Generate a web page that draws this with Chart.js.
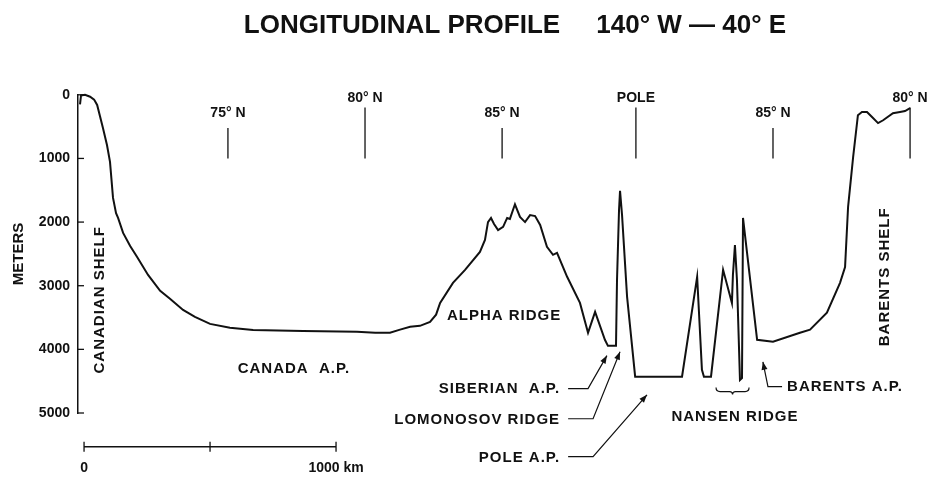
<!DOCTYPE html>
<html>
<head>
<meta charset="utf-8">
<script src="https://cdn.jsdelivr.net/npm/chart.js@4/dist/chart.umd.min.js"></script>
<style>
  body { margin: 0; background: #fff; }
  canvas { display: block; }
</style>
</head>
<body>
<canvas id="profileChart" width="927" height="479"></canvas>
<script>
// PROFILE DATA (distance along section in km, depth in m)
const distanceKm = [-16, -12, 4, 24, 40, 52, 75, 91, 103, 115, 127, 135, 155, 183, 210, 254, 302, 341, 393, 440,
  500, 579, 671, 869, 1083, 1155, 1214, 1254, 1294, 1333, 1373, 1397, 1413, 1464, 1512, 1571, 1591, 1603, 1615, 1627,
  1643, 1663, 1679, 1690, 1710, 1730, 1750, 1770, 1790, 1810, 1837, 1861, 1877, 1917, 1968, 2000, 2028, 2067, 2079, 2111,
  2115, 2123, 2127, 2135, 2155, 2187, 2373, 2433, 2452, 2460, 2488, 2536, 2571, 2575, 2583, 2591, 2603, 2611, 2615, 2671,
  2734, 2841, 2881, 2948, 3000, 3020, 3032, 3052, 3071, 3087, 3107, 3127, 3151, 3171, 3210, 3238, 3258, 3278];
const depthM = [150, 10, 0, 30, 75, 160, 520, 790, 1055, 1620, 1860, 1935, 2170, 2375, 2545, 2830, 3080, 3205, 3380, 3490,
  3600, 3660, 3695, 3710, 3725, 3740, 3740, 3690, 3645, 3630, 3570, 3455, 3270, 2955, 2750, 2470, 2280, 2000, 1935, 2030,
  2125, 2075, 1935, 1950, 1720, 1920, 2000, 1890, 1905, 2045, 2390, 2515, 2485, 2860, 3270, 3740, 3410, 3850, 3945, 3945,
  2910, 1810, 1510, 1890, 3175, 4430, 4430, 2860, 4320, 4430, 4430, 2750, 3270, 2830, 2360, 2910, 4480, 4450, 1935, 3850,
  3880, 3740, 3690, 3425, 2955, 2705, 1760, 980, 320, 270, 270, 350, 445, 400, 290, 270, 255, 210];

const yTicks = [0, 1000, 2000, 3000, 4000, 5000];

// latitude marks along the top
const latNames = ['75° N', '80° N', '85° N', 'POLE', '85° N', '80° N'];
const latKm = [571, 1115, 1659, 2190, 2734, 3278];

// scale bar
const scaleBarKm = [0, 500, 1000];

const FONT = '"Liberation Sans", Arial, Helvetica, sans-serif';
const INK = '#111';

// text notes: [text, km, m, align, rotated]
const notes = [
  ['CANADA  A.P.', 833, 4305, 'center', false],
  ['ALPHA RIDGE', 1667, 3473, 'center', false],
  ['SIBERIAN  A.P.', 1889, 4617, 'right', false],
  ['LOMONOSOV RIDGE', 1889, 5104, 'right', false],
  ['POLE A.P.', 1889, 5700, 'right', false],
  ['NANSEN RIDGE', 2583, 5057, 'center', false],
  ['BARENTS A.P.', 2790, 4586, 'left', false],
  ['CANADIAN SHELF', 63, 3222, 'center', true],
  ['BARENTS SHELF', 3179, 2860, 'center', true]
];

// leader arrows: list of [km, m] points, arrow head on the last one
const arrows = [
  [[1921, 4617], [2000, 4617], [2075, 4098]],
  [[1921, 5090], [2020, 5090], [2127, 4038]],
  [[1921, 5687], [2020, 5687], [2234, 4714]],
  [[2770, 4586], [2714, 4586], [2694, 4195]]
];

function arrowHead(ctx, x0, y0, x1, y1) {
  const a = Math.atan2(y1 - y0, x1 - x0);
  const len = 8, w = 3;
  ctx.beginPath();
  ctx.moveTo(x1, y1);
  ctx.lineTo(x1 - len * Math.cos(a) + w * Math.sin(a), y1 - len * Math.sin(a) - w * Math.cos(a));
  ctx.lineTo(x1 - len * Math.cos(a) - w * Math.sin(a), y1 - len * Math.sin(a) + w * Math.cos(a));
  ctx.closePath();
  ctx.fill();
}

const profileNotes = {
  id: 'profileNotes',
  afterDraw(chart) {
    const { ctx, scales: { x, y } } = chart;
    const px = v => x.getPixelForValue(v);
    const py = v => y.getPixelForValue(v);
    ctx.save();
    ctx.fillStyle = INK;
    ctx.strokeStyle = INK;

    // title
    ctx.font = 'bold 26px ' + FONT;
    ctx.textAlign = 'center';
    ctx.textBaseline = 'alphabetic';
    ctx.fillText('LONGITUDINAL PROFILE     140° W — 40° E', 515, 33);

    // inward ticks on depth axis
    ctx.lineWidth = 1.3;
    yTicks.forEach(v => {
      ctx.beginPath();
      ctx.moveTo(x.left, py(v));
      ctx.lineTo(x.left + 6, py(v));
      ctx.stroke();
    });

    // latitude marks
    ctx.font = 'bold 14px ' + FONT;
    ctx.textBaseline = 'middle';
    latNames.forEach((name, i) => {
      const tall = i % 2 === 1;
      const xx = px(latKm[i]);
      ctx.beginPath();
      ctx.moveTo(xx, py(tall ? 200 : 520));
      ctx.lineTo(xx, py(1000));
      ctx.stroke();
      ctx.fillText(name, xx, py(tall ? 50 : 290));
    });

    // notes
    ctx.font = 'bold 15px ' + FONT;
    ctx.letterSpacing = '1px';
    notes.forEach(([text, km, m, align, rotated]) => {
      ctx.save();
      ctx.translate(px(km), py(m));
      if (rotated) ctx.rotate(-Math.PI / 2);
      ctx.textAlign = align;
      ctx.fillText(text, 0, 0);
      ctx.restore();
    });
    ctx.letterSpacing = '0px';

    // arrows
    ctx.lineWidth = 1.2;
    arrows.forEach(pts => {
      ctx.beginPath();
      pts.forEach(([km, m], j) => {
        if (j === 0) ctx.moveTo(px(km), py(m));
        else ctx.lineTo(px(km), py(m));
      });
      ctx.stroke();
      const n = pts.length;
      arrowHead(ctx, px(pts[n - 2][0]), py(pts[n - 2][1]), px(pts[n - 1][0]), py(pts[n - 1][1]));
    });

    // brace under nansen ridge
    const bx0 = px(2508), bx1 = px(2639), by = py(4664), bm = (bx0 + bx1) / 2;
    ctx.beginPath();
    ctx.moveTo(bx0, by - 4);
    ctx.quadraticCurveTo(bx0, by, bx0 + 4, by);
    ctx.lineTo(bm - 3, by);
    ctx.quadraticCurveTo(bm, by, bm, by + 3);
    ctx.quadraticCurveTo(bm, by, bm + 3, by);
    ctx.lineTo(bx1 - 4, by);
    ctx.quadraticCurveTo(bx1, by, bx1, by - 4);
    ctx.stroke();

    // scale bar
    const sy = py(5530);
    ctx.lineWidth = 1.3;
    ctx.beginPath();
    ctx.moveTo(px(scaleBarKm[0]), sy);
    ctx.lineTo(px(scaleBarKm[scaleBarKm.length - 1]), sy);
    scaleBarKm.forEach(k => {
      ctx.moveTo(px(k), sy - 5);
      ctx.lineTo(px(k), sy + 5);
    });
    ctx.stroke();
    ctx.font = 'bold 14px ' + FONT;
    ctx.textAlign = 'center';
    ctx.fillText('0', px(0), py(5860));
    ctx.fillText('1000 km', px(1000), py(5860));

    ctx.restore();
  }
};

const ctx = document.getElementById('profileChart').getContext('2d');
const profileChart = new Chart(ctx, {
  type: 'line',
  data: {
    datasets: [{
      data: distanceKm.map((d, i) => ({ x: d, y: depthM[i] })),
      borderColor: INK,
      borderWidth: 2,
      pointRadius: 0,
      fill: false,
      tension: 0,
      clip: false
    }]
  },
  options: {
    responsive: false,
    animation: false,
    devicePixelRatio: 1,
    layout: {
      padding: { left: 0, right: 13.9, top: 94.8, bottom: 66 }
    },
    plugins: {
      legend: { display: false },
      tooltip: { enabled: false }
    },
    scales: {
      x: {
        type: 'linear',
        display: false,
        min: -24,
        max: 3290
      },
      y: {
        type: 'linear',
        reverse: true,
        min: 0,
        max: 5000,
        afterFit: scale => { scale.width = 78; },
        afterBuildTicks: scale => { scale.ticks = yTicks.map(v => ({ value: v })); },
        ticks: {
          callback: v => String(v),
          color: INK,
          padding: 8,
          font: { family: FONT, size: 14, weight: 'bold' }
        },
        grid: { display: true, drawOnChartArea: false, drawTicks: false },
        border: { display: true, color: INK, width: 1.5 },
        title: {
          display: true,
          text: 'METERS',
          color: INK,
          padding: { top: 10, bottom: 0 },
          font: { family: FONT, size: 15, weight: 'bold' }
        }
      }
    }
  },
  plugins: [profileNotes]
});
</script>
</body>
</html>
